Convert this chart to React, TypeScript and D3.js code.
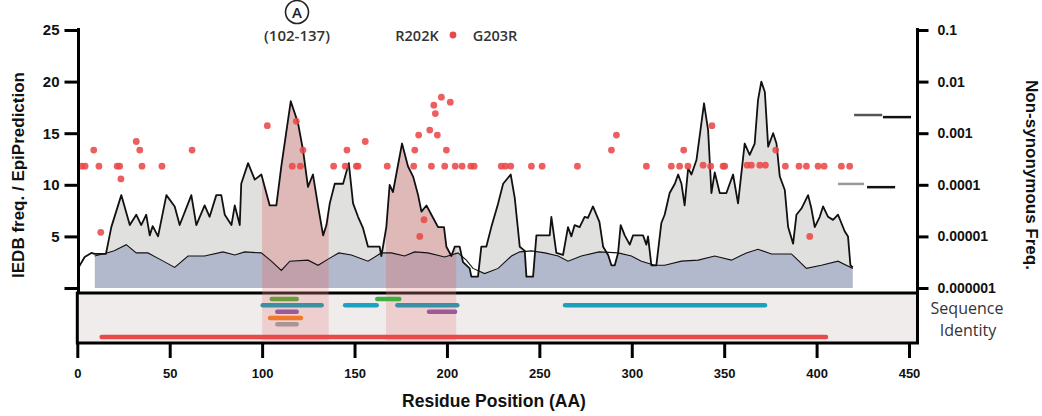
import { useEffect, useRef } from 'react';
import * as d3 from 'd3';

// IEDB freq. / EpiPrediction (upper, thick line) — [residue, value]
const iedbFreq: [number, number][] = [
  [0.4, 1.9], [4, 3.0], [7.6, 3.4], [9.4, 3.3], [15.5, 3.3], [18.4, 5.9], [23.8, 9.0], [28.4, 6.1],
  [31.9, 7.1], [34.6, 6.1], [37.3, 7.1], [39.2, 5.1], [40.8, 6.0], [43.7, 5.0], [48.2, 9.0], [52.7, 7.9],
  [55.4, 6.1], [61.7, 9.0], [64.4, 6.1], [68.9, 8.0], [71.6, 6.9], [75.2, 9.0], [77.9, 9.0], [79.8, 7.1],
  [83.4, 6.1], [85.2, 8.0], [87.9, 6.1], [88.7, 10.1], [92.4, 12.1], [96, 10.5], [99.6, 11.0], [104.1, 8.0],
  [107.7, 8.0], [110.4, 11.8], [115.5, 18.1], [119.4, 16.0], [122.1, 13.4], [124.8, 9.8], [127.5, 11.0],
  [130.3, 7.9], [133, 5.1], [134.8, 6.1], [136.6, 8.2], [139.3, 10.1], [143.8, 10.1], [146.9, 12.1],
  [149.2, 8.2], [151.9, 6.9], [154.6, 5.8], [157.3, 4.0], [163.6, 4.0], [164.5, 3.1], [165.4, 4.0],
  [167.2, 5.9], [169, 10.0], [170.8, 9.3], [175.7, 14.0], [178.9, 11.8], [181.7, 10.8], [184.4, 9.0],
  [186.2, 7.4], [188.9, 8.0], [191.6, 7.1], [195.2, 5.9], [198.4, 5.9], [199.7, 4.0], [202.4, 3.1],
  [204.2, 4.0], [206.9, 4.0], [208.7, 2.5], [212.3, 1.9], [213.2, 1.1], [216.8, 1.1], [218.6, 4.0],
  [221.3, 4.0], [224, 5.9], [227.7, 8.2], [230.4, 10.1], [234.5, 11.0], [236.7, 8.7], [239.4, 4.0],
  [242.1, 3.6], [243, 1.1], [246.6, 1.1], [248.4, 5.1], [255.6, 5.1], [256.5, 6.9], [259.2, 3.4],
  [262.8, 3.2], [265.5, 5.9], [267.3, 5.0], [269.1, 6.1], [271.8, 5.9], [274.5, 6.9], [276.3, 6.8],
  [279, 7.9], [282.5, 6.4], [284.5, 4.0], [287.2, 3.2], [289, 2.2], [290.8, 2.2], [292.6, 3.4], [294, 6.1],
  [296.2, 5.1], [298.9, 4.2], [300.7, 5.1], [306.1, 5.1], [307.9, 4.2], [308.8, 5.0], [310.6, 2.2],
  [313.3, 2.2], [316, 6.3], [317.8, 7.1], [320.5, 9.2], [323.3, 10.1], [325.1, 11.0], [326.9, 10.1],
  [328.6, 8.0], [330.5, 11.6], [332.3, 11.0], [335, 12.4], [339.1, 17.9], [341.3, 15.3], [343.1, 9.2],
  [344.9, 11.2], [347.6, 9.2], [351.2, 9.2], [353, 10.1], [354.8, 11.0], [357.5, 8.2], [361.1, 14.0],
  [363.8, 12.9], [366.5, 14.0], [368.3, 18.2], [370.1, 20.0], [372, 19.0], [373.8, 13.7], [376.5, 15.0],
  [378.3, 14.0], [380.1, 10.8], [382.8, 9.5], [384.6, 5.9], [387.3, 4.3], [389.1, 7.1], [391.8, 7.7],
  [395.4, 9.0], [397.2, 7.7], [399, 5.9], [401.7, 6.9], [403.5, 7.9], [406.2, 6.9], [408.9, 6.6],
  [411.6, 7.1], [415.2, 5.5], [417, 5.0], [418.3, 2.2], [419.6, 2.0],
];

// lower curve (blue fill)
const epiPrediction: [number, number][] = [
  [9.4, 3.1], [16, 3.4], [20, 3.6], [26.5, 4.2], [31.9, 3.4], [38.2, 3.4], [45.5, 2.7], [52.7, 2.0],
  [59.9, 3.1], [68.9, 3.1], [78.8, 3.5], [85.2, 3.2], [90.6, 3.5], [99.6, 3.4], [105, 2.6], [110.4, 1.7],
  [115, 2.6], [124.8, 2.7], [130.3, 2.2], [135.7, 2.8], [141.5, 3.4], [148.3, 3.2], [157.3, 2.6],
  [164.5, 3.4], [169.9, 3.4], [177.1, 3.1], [182.5, 3.5], [189.7, 3.4], [198.8, 3.0], [206, 3.4],
  [210.5, 2.7], [214.1, 1.9], [220.4, 1.4], [227.7, 1.9], [234.9, 3.1], [239.4, 3.5], [245.7, 3.6],
  [253, 3.4], [260.2, 3.1], [265.5, 2.6], [272.7, 3.1], [282.3, 3.5], [292.6, 3.4], [299.8, 3.1],
  [305.2, 2.6], [312.4, 2.2], [317.8, 2.2], [326.9, 2.6], [335.9, 2.7], [344.9, 3.1], [353.9, 2.7],
  [362, 3.4], [368.3, 3.75], [375.6, 3.3], [386.4, 3.3], [394.5, 1.9], [402.6, 2.2], [411.6, 2.6],
  [419.6, 1.9],
];

// non-synonymous frequency per residue (right log axis)
const mutations: [number, number][] = [
  [2.4, 2.3e-4], [4.2, 2.3e-4], [8.9, 4.7e-4], [11.7, 2.3e-4], [12.7, 1.2e-5], [21.6, 2.3e-4],
  [22.9, 2.3e-4], [23.6, 1.3e-4], [31.9, 6.9e-4], [33.8, 4.7e-4], [35, 2.3e-4], [45.8, 2.3e-4],
  [62.1, 4.7e-4], [102.8, 1.4e-3], [116.3, 2.3e-4], [118.5, 1.7e-3], [120.7, 2.3e-4], [122.1, 4.7e-4],
  [138.7, 2.3e-4], [145, 2.3e-4], [145.9, 4.7e-4], [151, 2.3e-4], [151.9, 2.3e-4], [155.8, 6.9e-4],
  [167.7, 2.3e-4], [182, 2.3e-4], [182.6, 4.7e-4], [184.7, 9.2e-4], [185.3, 1.0e-5], [187.6, 2.1e-5],
  [190.7, 1.15e-3], [191.6, 2.3e-4], [192.9, 3.5e-3], [193.7, 2.4e-3], [194.8, 9.2e-4], [197, 5.0e-3],
  [198.8, 2.3e-4], [199.7, 4.7e-4], [201.8, 4.0e-3], [204.5, 2.3e-4], [208.2, 2.3e-4], [212.9, 2.3e-4],
  [214.7, 2.3e-4], [229.4, 2.3e-4], [231.6, 2.3e-4], [234.5, 2.3e-4], [245.7, 2.3e-4], [251.5, 2.3e-4],
  [270.6, 2.3e-4], [289, 4.7e-4], [291.7, 9.2e-4], [307.9, 2.3e-4], [321.4, 2.3e-4], [325.9, 2.3e-4],
  [328.1, 4.7e-4], [330.4, 2.3e-4], [338.6, 2.4e-4], [342.7, 2.3e-4], [343.4, 1.4e-3], [349.4, 2.3e-4],
  [350.3, 2.3e-4], [362.4, 2.4e-4], [364.7, 2.4e-4], [369.3, 2.4e-4], [372.3, 2.4e-4], [377.9, 4.7e-4],
  [383.1, 2.3e-4], [390.5, 2.3e-4], [394.5, 2.3e-4], [396.3, 1.0e-5], [400.8, 2.3e-4], [404.1, 2.3e-4],
  [413.4, 2.3e-4], [417.9, 2.3e-4],
];

const regionStarts = [100, 167];
const regionEnds = [136, 205];

// sequence identity segments
const segStart = [105.2, 100.3, 108.2, 104.3, 108.2, 144.9, 162.3, 173.2, 190.3, 263.9, 13.2];
const segEnd = [118.7, 132.2, 118.7, 121, 118.7, 162, 174.2, 205.6, 204.4, 372.1, 405.1];
const segLane = [0, 1, 2, 3, 4, 1, 0, 1, 2, 1, 6];
const segColor = ['#6b9b3c', '#3d8fa3', '#9e5a97', '#f0782a', '#a89595', '#1ba2c2', '#3fae3f', '#3d8fa8', '#9e5a97', '#1aa0b8', '#e84a4a'];

// short reference marks at the right
const markStart = [420.3, 435.9, 411.6, 427.3];
const markEnd = [435.5, 451.1, 425.7, 442.5];
const markFreq = [2.25e-3, 2.05e-3, 1.04e-4, 9.0e-5];
const markColor = ['#555', '#111', '#999', '#111'];

const leftTicks = [0, 5, 10, 15, 20, 25];
const rightTicks = [1e-6, 1e-5, 1e-4, 1e-3, 1e-2, 1e-1];
const rightTickLabels = ['0.000001', '0.00001', '0.0001', '0.001', '0.01', '0.1'];
const xTicks = [0, 50, 100, 150, 200, 250, 300, 350, 400, 450];

const FONT = "'Liberation Sans', Arial, sans-serif";

export default function App() {
  const ref = useRef<SVGSVGElement>(null);

  useEffect(() => {
    const svg = d3.select(ref.current);
    svg.selectAll('*').remove();

    const leftX = 78.5;
    const rightX = 917.5;
    const panelTop = 293;
    const panelBottom = 343;

    const x = d3.scaleLinear().domain([0, 450]).range([77.3, 909]);
    const yL = d3.scaleLinear().domain([0, 25]).range([288, 30]);
    const yR = d3.scaleLog().domain([1e-6, 0.1]).range([288, 30]);
    const lane = d3.scaleLinear().domain([0, 6]).range([299, 337]);

    const areaUpper = d3.area<[number, number]>()
      .defined(d => d[0] >= 9)
      .x(d => x(d[0])).y0(yL(0)).y1(d => yL(d[1]));
    const areaLower = d3.area<[number, number]>()
      .x(d => x(d[0])).y0(yL(0)).y1(d => yL(d[1]));
    const line = d3.line<[number, number]>().x(d => x(d[0])).y(d => yL(d[1]));

    const defs = svg.append('defs');
    defs.append('clipPath').attr('id', 'underUpper')
      .append('path').attr('d', areaUpper(iedbFreq));

    // areas
    svg.append('path').attr('d', areaUpper(iedbFreq)).attr('fill', '#e0e0de');
    svg.append('path').attr('d', areaLower(epiPrediction)).attr('fill', '#b2b9cc')
      .attr('clip-path', 'url(#underUpper)');

    // highlighted regions (under curve)
    const regs = regionStarts.map((s, i) => ({ s, e: regionEnds[i] }));
    svg.append('g').attr('clip-path', 'url(#underUpper)')
      .selectAll('rect').data(regs).enter().append('rect')
      .attr('x', d => x(d.s)).attr('width', d => x(d.e) - x(d.s))
      .attr('y', yL(25)).attr('height', yL(0) - yL(25))
      .attr('fill', '#d97a7a').attr('opacity', 0.38);

    // lines
    svg.append('path').attr('d', line(epiPrediction)).attr('fill', 'none')
      .attr('stroke', '#111').attr('stroke-width', 1.1);
    svg.append('path').attr('d', line(iedbFreq)).attr('fill', 'none')
      .attr('stroke', '#111').attr('stroke-width', 1.8).attr('stroke-linejoin', 'round');

    // sequence identity panel
    svg.append('rect').attr('x', x(0)).attr('y', panelTop)
      .attr('width', rightX - x(0)).attr('height', panelBottom - panelTop)
      .attr('fill', '#f0ecec').attr('stroke', '#000').attr('stroke-width', 3);
    svg.append('g').selectAll('rect').data(regs).enter().append('rect')
      .attr('x', d => x(d.s)).attr('width', d => x(d.e) - x(d.s))
      .attr('y', yL(0)).attr('height', panelBottom - 1.5 - yL(0))
      .attr('fill', '#e88a8a').attr('opacity', 0.3);

    const segs = segStart.map((s, i) => ({ s, e: segEnd[i], lane: segLane[i], color: segColor[i] }));
    svg.append('g').selectAll('line').data(segs).enter().append('line')
      .attr('x1', d => x(d.s)).attr('x2', d => x(d.e))
      .attr('y1', d => lane(d.lane)).attr('y2', d => lane(d.lane))
      .attr('stroke', d => d.color).attr('stroke-width', 4.5).attr('stroke-linecap', 'round');

    // mutation dots
    svg.append('g').selectAll('circle').data(mutations).enter().append('circle')
      .attr('cx', d => x(d[0])).attr('cy', d => yR(d[1])).attr('r', 3.4)
      .attr('fill', '#ea4848').attr('opacity', 0.88);

    // reference marks
    const marks = markStart.map((s, i) => ({ s, e: markEnd[i], f: markFreq[i], c: markColor[i] }));
    svg.append('g').selectAll('line').data(marks).enter().append('line')
      .attr('x1', d => x(d.s)).attr('x2', d => x(d.e))
      .attr('y1', d => yR(d.f)).attr('y2', d => yR(d.f))
      .attr('stroke', d => d.c).attr('stroke-width', 2.5);

    const styleAxis = (g: any, size: number) => {
      g.attr('font-family', FONT).attr('font-size', size).attr('font-weight', 'bold');
      g.select('.domain').remove();
      g.selectAll('.tick line').attr('stroke', '#000').attr('stroke-width', 3);
      g.selectAll('.tick text').attr('fill', '#111');
    };

    // left axis
    const gL = svg.append('g').attr('transform', `translate(${leftX},0)`)
      .call(d3.axisLeft(yL).tickValues(leftTicks).tickSize(14).tickPadding(5)
        .tickFormat(d => (+d === 0 ? '' : String(d))));
    styleAxis(gL, 15);
    svg.append('line').attr('x1', leftX).attr('x2', leftX).attr('y1', 28).attr('y2', panelTop)
      .attr('stroke', '#000').attr('stroke-width', 3);

    // right axis
    const gR = svg.append('g').attr('transform', `translate(${rightX},0)`)
      .call(d3.axisRight(yR).tickValues(rightTicks).tickSize(11).tickPadding(9)
        .tickFormat((d, i) => rightTickLabels[i]));
    styleAxis(gR, 14);
    svg.append('line').attr('x1', rightX).attr('x2', rightX).attr('y1', 28).attr('y2', panelTop)
      .attr('stroke', '#000').attr('stroke-width', 3);

    // x axis
    const gX = svg.append('g').attr('transform', `translate(0,${panelBottom})`)
      .call(d3.axisBottom(x).tickValues(xTicks).tickSize(15).tickPadding(11).tickFormat(d => String(d)));
    styleAxis(gX, 13);

    // titles
    svg.append('text').attr('transform', 'translate(24,175) rotate(-90)')
      .attr('text-anchor', 'middle').attr('font-family', FONT).attr('font-weight', 'bold')
      .attr('font-size', 17).attr('fill', '#111').text('IEDB freq. / EpiPrediction');
    svg.append('text').attr('transform', 'translate(1026,175) rotate(90)')
      .attr('text-anchor', 'middle').attr('font-family', FONT).attr('font-weight', 'bold')
      .attr('font-size', 17).attr('fill', '#111').text('Non-synonymous Freq.');
    svg.append('text').attr('x', 494).attr('y', 407)
      .attr('text-anchor', 'middle').attr('font-family', FONT).attr('font-weight', 'bold')
      .attr('font-size', 17.5).attr('fill', '#111').text('Residue Position (AA)');

    const side = svg.append('text').attr('text-anchor', 'middle')
      .attr('font-family', "'Open Sans', sans-serif").attr('font-size', 16).attr('fill', '#333');
    side.append('tspan').attr('x', 967).attr('y', 314).text('Sequence');
    side.append('tspan').attr('x', 968).attr('y', 336).text('Identity');

    // annotations
    svg.append('circle').attr('cx', 297).attr('cy', 12).attr('r', 11.5)
      .attr('fill', 'none').attr('stroke', '#222').attr('stroke-width', 1.6);
    svg.append('text').attr('x', 297).attr('y', 17.5).attr('text-anchor', 'middle')
      .attr('font-family', "'Open Sans', sans-serif").attr('font-weight', 600)
      .attr('font-size', 15).attr('fill', '#222').text('A');
    svg.append('text').attr('x', 297).attr('y', 41).attr('text-anchor', 'middle')
      .attr('font-family', "'Open Sans', sans-serif").attr('font-weight', 600)
      .attr('font-size', 15).attr('fill', '#333').text('(102-137)');
    svg.append('text').attr('x', 417).attr('y', 41).attr('text-anchor', 'middle')
      .attr('font-family', "'Open Sans', sans-serif").attr('font-weight', 600)
      .attr('font-size', 14.5).attr('fill', '#333').text('R202K');
    svg.append('circle').attr('cx', 453).attr('cy', 35).attr('r', 3.4).attr('fill', '#ea4848');
    svg.append('text').attr('x', 495).attr('y', 41).attr('text-anchor', 'middle')
      .attr('font-family', "'Open Sans', sans-serif").attr('font-weight', 600)
      .attr('font-size', 14.5).attr('fill', '#333').text('G203R');
  }, []);

  return (
    <svg ref={ref} width={1042} height={416}
      style={{ position: 'absolute', left: 0, top: 0, background: '#fff' }} />
  );
}
